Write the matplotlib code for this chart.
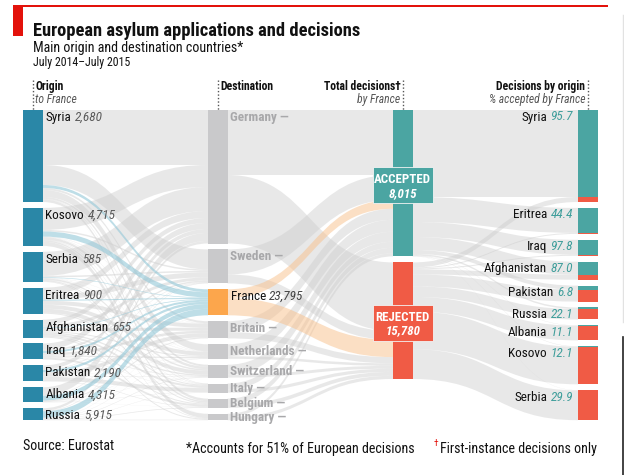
import matplotlib
matplotlib.use('Agg')
from matplotlib import pyplot as plt
from matplotlib import font_manager as fm
from matplotlib.path import Path
from matplotlib.patches import PathPatch, Rectangle

# ---- data (flows in thousands of decisions, estimated) ----
origins = ['Syria', 'Kosovo', 'Serbia', 'Eritrea', 'Afghanistan', 'Iraq', 'Pakistan', 'Albania', 'Russia']
france_apps = [2680, 4715, 585, 900, 655, 1840, 2190, 4315, 5915]

destinations = ['Germany', 'Sweden', 'France', 'Britain', 'Netherlands', 'Switzerland', 'Italy', 'Belgium', 'Hungary']

# origin -> destination (rows follow `origins`, columns follow `destinations`)
syria_to = [55, 20, 2.9, 2, 7, 2, 0.5, 2.5, 0.1]
kosovo_to = [22, 1.5, 5.2, 0.3, 0.3, 2.5, 0.5, 1.5, 4.2]
serbia_to = [24, 1.5, 0.6, 0.2, 0.3, 1.5, 0.3, 1.0, 0.6]
eritrea_to = [7, 5, 1.0, 4, 4, 4, 1, 0, 0]
afghanistan_to = [5, 3, 0.7, 3, 1, 1.3, 2, 1, 1]
iraq_to = [6, 1.5, 2.0, 2.5, 1.2, 0.5, 0.3, 2, 0]
pakistan_to = [4, 0.5, 2.4, 4, 0.2, 0.4, 4, 0.5, 0]
albania_to = [8, 0.5, 4.7, 1, 0.2, 0.2, 0.3, 0.1, 0]
russia_to = [2.5, 0.5, 6.5, 0.2, 0.3, 0.5, 0.3, 0.7, 0.5]
od_flows = [syria_to, kosovo_to, serbia_to, eritrea_to, afghanistan_to,
            iraq_to, pakistan_to, albania_to, russia_to]

# destination -> decision
dest_accepted = [65, 25, 8.8, 11, 12, 10, 6, 5.5, 3.1]
dest_rejected = [68.5, 9, 17.2, 6.2, 2.5, 2.9, 3.2, 3.8, 3.3]
france_accepted = 8015
france_rejected = 15780

# decisions by origin (right column)
right_origins = ['Syria', 'Eritrea', 'Iraq', 'Afghanistan', 'Pakistan', 'Russia', 'Albania', 'Kosovo', 'Serbia']
right_accepted = [87, 25, 15, 13, 4, 1.5, 0.3, 0.4, 0.2]
right_rejected = [5, 1, 1, 5, 12, 10.5, 14.7, 37.6, 29.8]
pct_accepted_france = ['95.7', '44.4', '97.8', '87.0', '6.8', '22.1', '11.1', '12.1', '29.9']

# ---- style ----
names = {f.name for f in fm.fontManager.ttflist}
FONT = next((n for n in ['Roboto Condensed', 'Liberation Sans Narrow', 'Open Sans Condensed',
                         'Liberation Sans'] if n in names), 'DejaVu Sans')
plt.rcParams['font.family'] = [FONT, 'DejaVu Sans']

BLUE = '#2a87a7'
TEAL = '#4ba5a2'
RED = '#f05b45'
GREY_BAR = '#c9c9cb'
ORANGE = '#fca64c'
ECON_RED = '#e3120b'

TOP = 110
BAR_W = 19.5
X_ORIG, X_DEST, X_DEC, X_RIGHT = 23, 208, 393, 578


def stack(values, gap):
    pos = []
    y = TOP
    for v in values:
        pos.append([y, y + v])
        y += v + gap
    return pos


def ribbon(ax, x0, a0, b0, x1, a1, b1, color, alpha, z):
    xm = (x0 + x1) / 2
    verts = [(x0, a0), (xm, a0), (xm, a1), (x1, a1),
             (x1, b1), (xm, b1), (xm, b0), (x0, b0), (x0, a0)]
    codes = [Path.MOVETO, Path.CURVE4, Path.CURVE4, Path.CURVE4,
             Path.LINETO, Path.CURVE4, Path.CURVE4, Path.CURVE4, Path.CLOSEPOLY]
    ax.add_patch(PathPatch(Path(verts, codes), fc=color, ec='none', alpha=alpha, zorder=z))


orig_tot = [sum(r) for r in od_flows]
dest_tot = [a + r for a, r in zip(dest_accepted, dest_rejected)]
right_tot = [a + r for a, r in zip(right_accepted, right_rejected)]

orig_pos = stack(orig_tot, 5.9)
dest_pos = stack(dest_tot, 5.9)
dec_pos = stack([sum(dest_accepted), sum(dest_rejected)], 6)
right_pos = stack(right_tot, 5.9)

fig = plt.figure(figsize=(6.24, 4.75), dpi=100)
ax = fig.add_axes([0, 0, 1, 1])
ax.set_xlim(0, 624)
ax.set_ylim(475, 0)
ax.axis('off')

# ---- flows: origin -> destination ----
o_off = [p[0] for p in orig_pos]
d_in = [p[0] for p in dest_pos]
fr = destinations.index('France')
for i, row in enumerate(od_flows):
    for j, w in enumerate(row):
        if w <= 0:
            continue
        if j == fr:
            ribbon(ax, X_ORIG + BAR_W, o_off[i], o_off[i] + w, X_DEST, d_in[j], d_in[j] + w, '#93c8d8', 0.6, 3)
        else:
            ribbon(ax, X_ORIG + BAR_W, o_off[i], o_off[i] + w, X_DEST, d_in[j], d_in[j] + w, '#cdcdcd', 0.45, 2)
        o_off[i] += w
        d_in[j] += w

# ---- flows: destination -> decision ----
acc_in, rej_in = dec_pos[0][0], dec_pos[1][0]
for j in range(len(destinations)):
    y = dest_pos[j][0]
    a, r = dest_accepted[j], dest_rejected[j]
    col, al, z = ('#f8c08a', 0.5, 3) if j == fr else ('#cdcdcd', 0.45, 2)
    ribbon(ax, X_DEST + BAR_W, y, y + a, X_DEC, acc_in, acc_in + a, col, al, z)
    ribbon(ax, X_DEST + BAR_W, y + a, y + a + r, X_DEC, rej_in, rej_in + r, col, al, z)
    acc_in += a
    rej_in += r

# ---- flows: decision -> decisions by origin ----
acc_out, rej_out = dec_pos[0][0], dec_pos[1][0]
for k in range(len(right_origins)):
    y = right_pos[k][0]
    a, r = right_accepted[k], right_rejected[k]
    ribbon(ax, X_DEC + BAR_W, acc_out, acc_out + a, X_RIGHT, y, y + a, '#cdcdcd', 0.45, 2)
    ribbon(ax, X_DEC + BAR_W, rej_out, rej_out + r, X_RIGHT, y + a, y + a + r, '#cdcdcd', 0.45, 2)
    acc_out += a
    rej_out += r

# ---- bars ----
for y0, y1 in orig_pos:
    ax.add_patch(Rectangle((X_ORIG, y0), BAR_W, y1 - y0, fc=BLUE, ec='none', zorder=5))
for j, (y0, y1) in enumerate(dest_pos):
    ax.add_patch(Rectangle((X_DEST, y0), BAR_W, y1 - y0, fc=ORANGE if j == fr else GREY_BAR, ec='none', zorder=5))
for (y0, y1), c in zip(dec_pos, [TEAL, RED]):
    ax.add_patch(Rectangle((X_DEC, y0), BAR_W, y1 - y0, fc=c, ec='none', zorder=5))
for k, (y0, y1) in enumerate(right_pos):
    a = right_accepted[k]
    ax.add_patch(Rectangle((X_RIGHT, y0), BAR_W, a, fc=TEAL, ec='none', zorder=5))
    ax.add_patch(Rectangle((X_RIGHT, y0 + a), BAR_W, y1 - y0 - a, fc=RED, ec='none', zorder=5))

LBL = 9.5

# origin labels
for name, apps, (y0, y1) in zip(origins, france_apps, orig_pos):
    t = ax.text(X_ORIG + BAR_W + 3, y0 + 7.5, name, fontsize=LBL, color='#111111', va='center', ha='left', zorder=8)
    ax.annotate(f'{apps:,}', xy=(1, 0.5), xycoords=t, xytext=(2.5, 0), textcoords='offset points',
                fontsize=LBL, style='italic', color='#5a5a5a', va='center', ha='left', zorder=8)

# destination labels
for j, (name, (y0, y1)) in enumerate(zip(destinations, dest_pos)):
    yy = y0 + min(7, (y1 - y0) * 0.55)
    if j == fr:
        t = ax.text(X_DEST + BAR_W + 3, yy, name, fontsize=LBL, color='#111111', va='center', zorder=8)
        ax.annotate(f'{sum(france_apps):,}', xy=(1, 0.5), xycoords=t, xytext=(2.5, 0), textcoords='offset points',
                    fontsize=LBL, style='italic', color='#444444', va='center', ha='left', zorder=8)
    else:
        ax.text(X_DEST + BAR_W + 3, yy, name + ' \u2014', fontsize=LBL, color='#a8a8aa',
                fontweight='bold', va='center', zorder=8)

# right labels
for name, pct, (y0, y1) in zip(right_origins, pct_accepted_france, right_pos):
    t = ax.text(X_RIGHT - 5, y0 + 7, pct, fontsize=LBL, style='italic', color='#3f9e9b', va='center', ha='right', zorder=8)
    ax.annotate(name, xy=(0, 0.5), xycoords=t, xytext=(-2.5, 0), textcoords='offset points',
                fontsize=LBL, color='#111111', va='center', ha='right', zorder=8)

# accepted / rejected boxes
for (y0, y1), c, word, n in zip(dec_pos, [TEAL, RED], ['ACCEPTED', 'REJECTED'], [france_accepted, france_rejected]):
    cy = (y0 + y1) / 2 + 2
    ax.add_patch(Rectangle((X_DEC + BAR_W / 2 - 30, cy - 18), 60, 36, fc=c, ec='#f3f3f3', lw=0.6, zorder=7))
    ax.text(X_DEC + BAR_W / 2, cy - 5.5, word, fontsize=9.3, fontweight='bold', color='white', ha='center', va='center', zorder=8)
    ax.text(X_DEC + BAR_W / 2, cy + 8, f'{n:,}', fontsize=9.3, fontweight='bold', style='italic',
            color='white', ha='center', va='center', zorder=8)

# column headers with dotted guides
hdr = [(X_ORIG, 'Origin', 'to France', 'left'),
       (X_DEST, 'Destination', '', 'left'),
       (X_DEC, 'Total decisions\u2020', 'by France', 'right'),
       (X_RIGHT, 'Decisions by origin', '% accepted by France', 'right')]
for x, h1, h2, side in hdr:
    xc = x + BAR_W / 2
    ax.plot([xc, xc], [80, TOP], color='#555555', lw=1, ls=(0, (1, 1.5)), zorder=9)
    xt = xc + 2.5 if side == 'left' else xc - 2.5
    ax.text(xt, 86.5, h1, fontsize=8.4, fontweight='bold', color='#111111', ha=side, va='center')
    if h2:
        ax.text(xt, 99.5, h2, fontsize=8.4, style='italic', color='#555555', ha=side, va='center')

# title block
ax.add_patch(Rectangle((13, 5), 10, 31, fc=ECON_RED, ec='none'))
ax.add_patch(Rectangle((13, 5), 595, 2, fc=ECON_RED, ec='none'))
ax.text(33, 31, 'European asylum applications and decisions', fontsize=13.3, fontweight='bold',
        color='#111111', va='center', ha='left')
ax.text(33, 48, 'Main origin and destination countries*', fontsize=10.1, color='#111111', va='center')
ax.text(33, 62.5, 'July 2014\u2013July 2015', fontsize=8.6, color='#111111', va='center')

# footer
ax.text(23, 446, 'Source: Eurostat', fontsize=10.1, color='#111111', va='center')
ax.text(186, 448.5, '*Accounts for 51% of European decisions', fontsize=10.1, color='#111111', va='center')
ax.text(434, 443, '\u2020', fontsize=6.8, color=ECON_RED, va='center')
ax.text(440, 448.5, 'First-instance decisions only', fontsize=10.1, color='#111111', va='center')

# screenshot edge lines on the right
ax.plot([622.5, 622.5], [15, 322], color='#e2e2e2', lw=1)
ax.plot([623, 623], [337, 475], color='#222222', lw=1.2)

fig.savefig('out.png', dpi=100)
